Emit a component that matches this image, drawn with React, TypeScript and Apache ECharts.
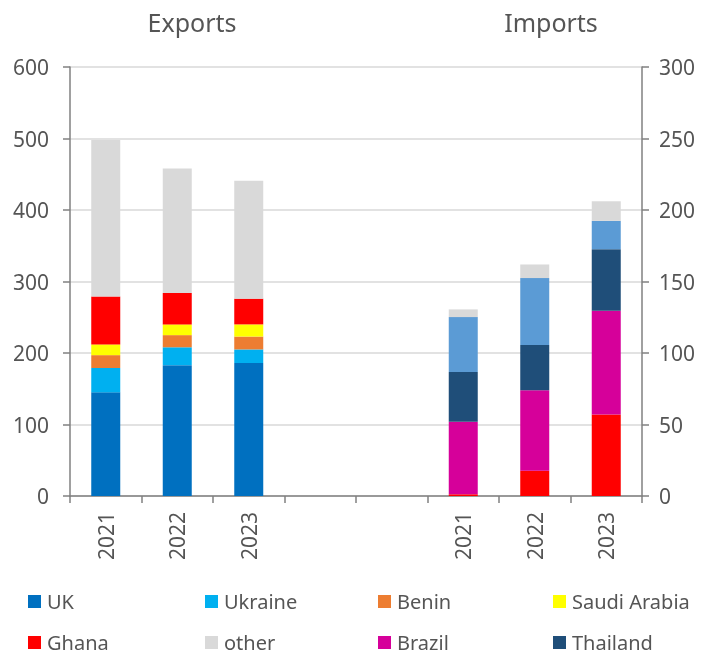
import React, { useEffect, useRef } from "react";
import * as echarts from "echarts";

const categories = ["2021", "2022", "2023", "", "", "2021", "2022", "2023"];
const leftTicks = [0, 100, 200, 300, 400, 500, 600];
const rightTicks = [0, 50, 100, 150, 200, 250, 300];

// Exports (left axis), 2021..2023
const expUK = [145, 183, 186];
const expUkraine = [34, 25, 19];
const expBenin = [18, 17, 18];
const expSaudi = [15, 15, 17];
const expGhana = [67, 44, 36];
const expOther = [219, 174, 165];

// Imports (right axis), 2021..2023
const impGhana = [1.2, 17.7, 57];
const impBrazil = [50.7, 56.3, 72.6];
const impThailand = [34.9, 31.6, 43];
const impLightBlue = [38.3, 46.8, 19.8];
const impOther = [5.4, 9.5, 13.7];

const colors: Record<string, string> = {
  UK: "#0070C0",
  Ukraine: "#00B0F0",
  Benin: "#ED7D31",
  "Saudi Arabia": "#FFFF00",
  Ghana: "#FF0000",
  other: "#D9D9D9",
  Brazil: "#D6009A",
  Thailand: "#1F4E79",
  "other partners": "#5B9BD5",
};

const legendNames = ["UK", "Ukraine", "Benin", "Saudi Arabia", "Ghana", "other", "Brazil", "Thailand"];

const FONT = "Noto Sans";
const TXT = "#555555";

function expData(v: number[]) {
  return [...v, null, null, null, null, null];
}
function impData(v: number[]) {
  return [null, null, null, null, null, ...v];
}

export default function App() {
  const ref = useRef<HTMLDivElement>(null);
  useEffect(() => {
    if (!ref.current) return;
    const chart = echarts.init(ref.current, undefined, { renderer: "svg" });
    const mk = (name: string, data: (number | null)[], stack: string, axis: number) => ({
      name,
      type: "bar",
      stack,
      yAxisIndex: axis,
      data,
      barWidth: 29,
      barGap: "-100%",
      itemStyle: { color: colors[name] },
    });
    const series = [
      mk("UK", expData(expUK), "exp", 0),
      mk("Ukraine", expData(expUkraine), "exp", 0),
      mk("Benin", expData(expBenin), "exp", 0),
      mk("Saudi Arabia", expData(expSaudi), "exp", 0),
      mk("Ghana", expData(expGhana), "exp", 0),
      mk("other", expData(expOther), "exp", 0),
      mk("Ghana", impData(impGhana), "imp", 1),
      mk("Brazil", impData(impBrazil), "imp", 1),
      mk("Thailand", impData(impThailand), "imp", 1),
      mk("other partners", impData(impLightBlue), "imp", 1),
      mk("other", impData(impOther), "imp", 1),
    ];
    const colX = [28, 205, 378, 553];
    const rowY = [591, 632];
    const legends = legendNames.map((n, i) => ({
      data: [n],
      left: colX[i % 4],
      top: rowY[Math.floor(i / 4)],
      padding: 0,
      itemWidth: 13,
      itemHeight: 13,
      itemGap: 6,
      icon: "rect",
      selectedMode: false,
      textStyle: { fontFamily: FONT, fontSize: 20, lineHeight: 21, color: TXT, padding: [0, 0, 0, 1] },
    }));
    const axisLine = { show: true, lineStyle: { color: "#808080", width: 1.5 } };
    const tick = { show: true, length: 7, lineStyle: { color: "#808080", width: 1.5 } };
    chart.setOption({
      animation: false,
      textStyle: { fontFamily: FONT },
      grid: { left: 70, right: 64, top: 67, bottom: 161, containLabel: false },
      legend: legends,
      graphic: [
        { type: "text", x: 192, y: 22, style: { text: "Exports", align: "center", verticalAlign: "middle", fontFamily: FONT, fontSize: 25, fill: TXT } },
        { type: "text", x: 551, y: 22, style: { text: "Imports", align: "center", verticalAlign: "middle", fontFamily: FONT, fontSize: 25, fill: TXT } },
      ],
      xAxis: {
        type: "category",
        data: categories,
        axisLine,
        axisTick: tick,
        axisLabel: { rotate: 90, margin: 16, fontFamily: FONT, fontSize: 21, color: TXT, interval: 0 },
      },
      yAxis: [
        {
          type: "value",
          min: leftTicks[0],
          max: leftTicks[leftTicks.length - 1],
          interval: 100,
          position: "left",
          axisLine,
          axisTick: tick,
          axisLabel: { margin: 21, fontFamily: FONT, fontSize: 21, color: TXT },
          splitLine: { show: true, lineStyle: { color: "#D9D9D9", width: 1.5 } },
        },
        {
          type: "value",
          min: rightTicks[0],
          max: rightTicks[rightTicks.length - 1],
          interval: 50,
          position: "right",
          axisLine,
          axisTick: tick,
          axisLabel: { margin: 17, fontFamily: FONT, fontSize: 21, color: TXT },
          splitLine: { show: false },
        },
      ],
      series,
    });
    return () => chart.dispose();
  }, []);
  return <div ref={ref} style={{ position: "fixed", left: 0, top: 0, width: 706, height: 657 }} />;
}
